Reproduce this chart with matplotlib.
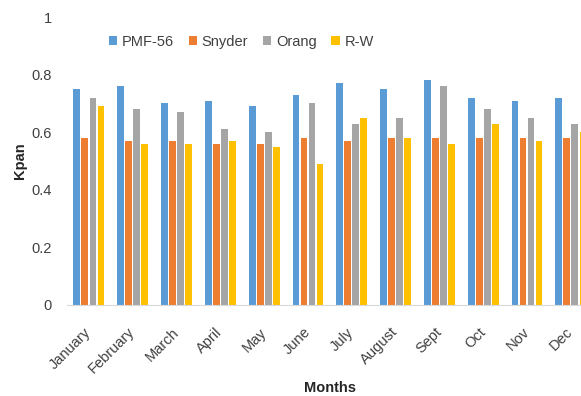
import numpy as np
import matplotlib.pyplot as plt

months = ["January", "February", "March", "April", "May", "June",
          "July", "August", "Sept", "Oct", "Nov", "Dec"]
pmf56 = [0.75, 0.76, 0.70, 0.71, 0.69, 0.73, 0.77, 0.75, 0.78, 0.72, 0.71, 0.72]
snyder = [0.58, 0.57, 0.57, 0.56, 0.56, 0.58, 0.57, 0.58, 0.58, 0.58, 0.58, 0.58]
orang = [0.72, 0.68, 0.67, 0.61, 0.60, 0.70, 0.63, 0.65, 0.76, 0.68, 0.65, 0.63]
rw = [0.69, 0.56, 0.56, 0.57, 0.55, 0.49, 0.65, 0.58, 0.56, 0.63, 0.57, 0.60]

series = [("PMF-56", pmf56, "#5B9BD5"),
          ("Snyder", snyder, "#ED7D31"),
          ("Orang", orang, "#A5A5A5"),
          ("R-W", rw, "#FFC000")]

plt.rcParams['font.family'] = ['Liberation Sans', 'DejaVu Sans']

fig = plt.figure(figsize=(5.81, 3.96), dpi=100)
ax = fig.add_axes([0.1153, 0.2298, 0.905, 0.727])

x = np.arange(len(months))
step = 0.183
w = 0.155
for k, (name, vals, col) in enumerate(series):
    ax.bar(x + (k - 1.5) * step, vals, width=w, color=col, label=name)

ax.set_xlim(-0.5, len(months) - 0.5)
ax.set_ylim(0, 1)
ax.set_yticks([0, 0.2, 0.4, 0.6, 0.8, 1])
ax.set_yticklabels(["0", "0.2", "0.4", "0.6", "0.8", "1"])
ax.set_xticks(x)
ax.set_xticklabels(months, rotation=45, ha="right", va="center", rotation_mode="anchor")
ax.tick_params(axis="both", length=0, labelsize=10.5, colors="#404040")
ax.tick_params(axis="y", pad=11)
ax.tick_params(axis="x", pad=18)

for s in ["top", "right", "left"]:
    ax.spines[s].set_visible(False)
ax.spines["bottom"].set_color("#D9D9D9")

ax.set_ylabel("Kpan", fontsize=10.5, fontweight="bold", color="#262626", labelpad=3)
ax.set_xlabel("Months", fontsize=10.5, fontweight="bold", color="#262626", labelpad=3)

fig.legend(loc="center", bbox_to_anchor=(0.415, 0.894), ncol=4, frameon=False,
           fontsize=10.5, handlelength=0.6, handleheight=0.6, handletextpad=0.3,
           columnspacing=1.0, labelcolor="#404040")

fig.savefig("out.png", dpi=100)
